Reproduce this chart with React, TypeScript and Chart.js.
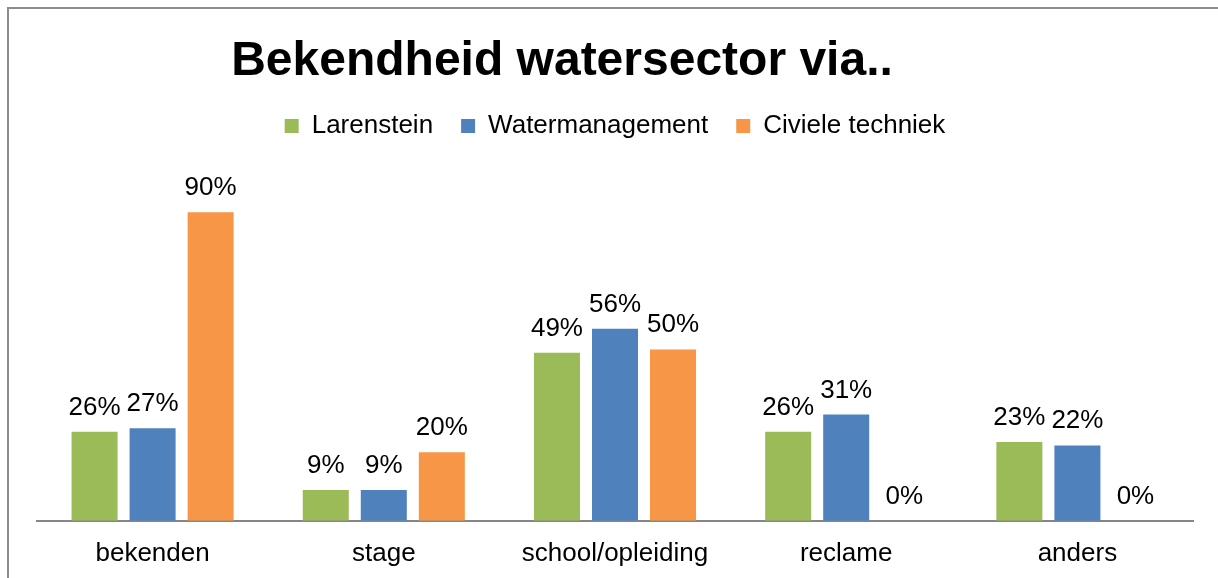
import React, { useEffect, useRef } from "react";
import { Chart, registerables } from "chart.js";

Chart.register(...registerables);

const TITLE = "Bekendheid watersector via..";
const categories = ["bekenden", "stage", "school/opleiding", "reclame", "anders"];
const seriesNames = ["Larenstein", "Watermanagement", "Civiele techniek"];
const larenstein = [26, 9, 49, 26, 23];
const watermanagement = [27, 9, 56, 31, 22];
const civieleTechniek = [90, 20, 50, 0, 0];
const colors = ["#9BBB59", "#4F81BD", "#F79646"];
const FONT = "'Liberation Sans', Arial, sans-serif";

const titlePlugin = {
  id: "customTitle",
  afterDraw(chart: any) {
    const ctx = chart.ctx;
    ctx.save();
    ctx.font = `bold 48px ${FONT}`;
    ctx.fillStyle = "#000";
    ctx.textAlign = "center";
    ctx.textBaseline = "alphabetic";
    ctx.fillText(TITLE, 562, 75);
    ctx.restore();
  },
};

const legendSpacing = {
  id: "legendSpacing",
  beforeInit(chart: any) {
    const legend = chart.legend;
    if (!legend) return;
    const origFit = legend.fit;
    legend.fit = function () {
      origFit.call(this);
      this.height += 29;
    };
  },
};

const labelPlugin = {
  id: "valueLabels",
  afterDatasetsDraw(chart: any) {
    const ctx = chart.ctx;
    ctx.save();
    ctx.font = `26px ${FONT}`;
    ctx.fillStyle = "#000";
    ctx.textAlign = "center";
    ctx.textBaseline = "alphabetic";
    chart.data.datasets.forEach((ds: any, i: number) => {
      const meta = chart.getDatasetMeta(i);
      meta.data.forEach((bar: any, j: number) => {
        ctx.fillText(`${ds.data[j]}%`, bar.x, bar.y - 17);
      });
    });
    ctx.restore();
  },
};

export default function App() {
  const ref = useRef<HTMLCanvasElement>(null);
  useEffect(() => {
    if (!ref.current) return;
    const data = [larenstein, watermanagement, civieleTechniek];
    const chart = new Chart(ref.current, {
      type: "bar",
      data: {
        labels: categories,
        datasets: seriesNames.map((name, i) => ({
          label: name,
          data: data[i],
          backgroundColor: colors[i],
          borderWidth: 0,
          categoryPercentage: 0.753,
          barPercentage: 0.793,
        })),
      },
      options: {
        animation: false,
        responsive: false,
        maintainAspectRatio: false,
        layout: { padding: { left: 37, right: 25, top: 85, bottom: 0 } },
        plugins: {
          title: { display: false },
          tooltip: { enabled: false },
          legend: {
            display: true,
            position: "top",
            labels: {
              boxWidth: 14,
              boxHeight: 14,
              padding: 28,
              color: "#000",
              font: { family: FONT, size: 26 },
            },
          },
        },
        scales: {
          x: {
            grid: { display: false },
            border: { display: true, color: "#868686", width: 2 },
            ticks: { color: "#000", font: { family: FONT, size: 26 }, padding: 9, maxRotation: 0 },
          },
          y: {
            display: false,
            min: 0,
            max: 100,
          },
        },
      },
      plugins: [titlePlugin, labelPlugin, legendSpacing],
    });
    return () => chart.destroy();
  }, []);
  return (
    <>
      <div style={{ position: "absolute", left: 0, top: 0, width: 1218, height: 578, background: "#fff" }}>
        <canvas ref={ref} width={1218} height={578} style={{ display: "block" }} />
      </div>
      <div
        style={{
          position: "absolute",
          left: 7,
          top: 7,
          width: 1211,
          height: 571,
          boxSizing: "border-box",
          borderLeft: "2px solid #8c8c8c",
          borderTop: "2px solid #8c8c8c",
          pointerEvents: "none",
        }}
      />
    </>
  );
}
